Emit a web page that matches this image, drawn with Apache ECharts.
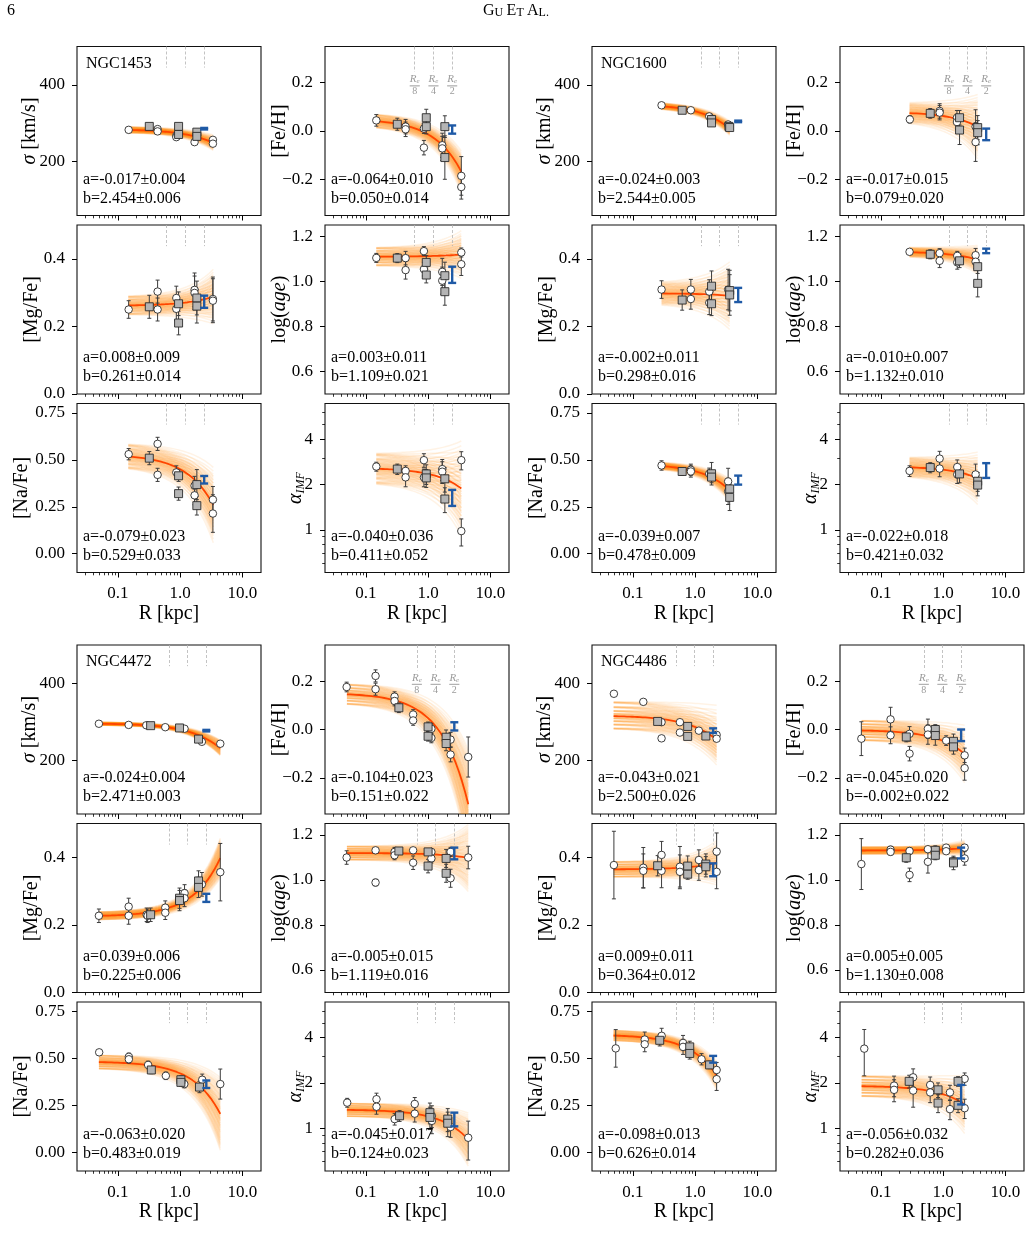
<!DOCTYPE html>
<html>
<head>
<meta charset="utf-8">
<script src="https://cdn.jsdelivr.net/npm/echarts@6/dist/echarts.min.js"></script>
<style>
  html, body { margin: 0; padding: 0; background: #fff; }
  #main { width: 1031px; height: 1243px; }
</style>
</head>
<body>
<div id="main"></div>
<script>
// ---------- data ----------
// each point: [R kpc, value, error]; fit: [a, da, b, db]
const X_TICKS = [0.1, 1, 10];
const X_LABELS = ['0.1', '1.0', '10.0'];
const X_MINOR = [0.03, 0.04, 0.05, 0.06, 0.07, 0.08, 0.09, 0.2, 0.3, 0.4, 0.5, 0.6, 0.7, 0.8, 0.9,
  2, 3, 4, 5, 6, 7, 8, 9];

const SIGMA_TICKS = [200, 400];
const SIGMA_LABELS = ['200', '400'];
const FEH_TICKS = [-0.2, 0, 0.2];
const FEH_LABELS = ['\u22120.2', '0.0', '0.2'];
const MGFE_TICKS = [0, 0.2, 0.4];
const MGFE_LABELS = ['0.0', '0.2', '0.4'];
const AGE_TICKS = [0.6, 0.8, 1.0, 1.2];
const AGE_LABELS = ['0.6', '0.8', '1.0', '1.2'];
const NAFE_TICKS = [0, 0.25, 0.5, 0.75];
const NAFE_LABELS = ['0.00', '0.25', '0.50', '0.75'];
const IMF_TICKS = [1, 2, 4];
const IMF_LABELS = ['1', '2', '4'];
const IMF_MINOR = [0.6, 0.7, 0.8, 0.9, 3, 5, 6];

const RE_DEN = [8, 4, 2];

// NGC1453
const RE_N1453 = [0.61, 1.22, 2.44];
const RANGE_N1453 = [0.147, 3.42];
const N1453_SIGMA = {
  fit: [-0.017, 0.004, 2.454, 0.006],
  circles: [[0.149, 283, 0], [0.435, 285, 0], [0.435, 279, 0], [0.87, 268, 0], [0.87, 264, 0],
    [1.71, 251, 0], [3.37, 257, 0], [3.37, 247, 0]],
  squares: [[0.32, 292, 0], [0.946, 292, 0], [0.946, 271, 0], [1.86, 277, 0], [1.86, 266, 0]],
  blue: [[2.44, 286, 2]]
};
const N1453_FEH = {
  fit: [-0.064, 0.010, 0.050, 0.014],
  circles: [[0.147, 0.044, 0.024], [0.435, 0.018, 0.03], [0.435, 0.007, 0.03], [0.857, 0.01, 0.02],
    [0.857, -0.069, 0.03], [1.69, -0.059, 0.05], [1.69, -0.072, 0.05], [3.42, -0.186, 0.08], [3.42, -0.232, 0.05]],
  squares: [[0.32, 0.028, 0.025], [0.935, 0.055, 0.035], [0.935, 0.018, 0.03], [1.86, 0.018, 0.045], [1.86, -0.11, 0.09]],
  blue: [[2.44, 0.006, 0.017]]
};
const N1453_MGFE = {
  fit: [0.008, 0.009, 0.261, 0.014],
  circles: [[0.149, 0.25, 0.026], [0.435, 0.303, 0.034], [0.435, 0.25, 0.034], [0.87, 0.284, 0.035],
    [0.87, 0.252, 0.035], [1.71, 0.308, 0.05], [1.71, 0.299, 0.05], [3.37, 0.281, 0.065], [3.37, 0.276, 0.065]],
  squares: [[0.32, 0.258, 0.034], [0.946, 0.267, 0.035], [0.946, 0.21, 0.035], [1.86, 0.284, 0.05], [1.86, 0.26, 0.05]],
  blue: [[2.44, 0.273, 0.018]]
};
const N1453_AGE = {
  fit: [0.003, 0.011, 1.109, 0.021],
  circles: [[0.147, 1.104, 0.02], [0.435, 1.103, 0.03], [0.435, 1.05, 0.04], [0.857, 1.134, 0.02],
    [0.857, 1.054, 0.03], [1.69, 1.042, 0.06], [1.69, 1.003, 0.06], [3.42, 1.128, 0.02], [3.42, 1.076, 0.05]],
  squares: [[0.32, 1.103, 0.02], [0.935, 1.084, 0.03], [0.935, 1.028, 0.035], [1.86, 1.025, 0.06], [1.86, 0.954, 0.06]],
  blue: [[2.44, 1.029, 0.036]]
};
const N1453_NAFE = {
  fit: [-0.079, 0.023, 0.529, 0.033],
  circles: [[0.149, 0.53, 0.03], [0.435, 0.585, 0.035], [0.435, 0.42, 0.035], [0.87, 0.433, 0.035],
    [1.71, 0.362, 0.05], [1.71, 0.311, 0.05], [3.37, 0.288, 0.07], [3.37, 0.214, 0.1]],
  squares: [[0.32, 0.509, 0.035], [0.946, 0.415, 0.03], [0.946, 0.32, 0.035], [1.86, 0.368, 0.08], [1.86, 0.256, 0.05]],
  blue: [[2.44, 0.394, 0.02]]
};
const N1453_IMF = {
  fit: [-0.040, 0.036, 0.411, 0.052],
  circles: [[0.147, 2.63, 0.18], [0.435, 2.46, 0.2], [0.435, 2.23, 0.3], [0.857, 2.9, 0.3], [0.857, 2.23, 0.3],
    [1.69, 2.53, 0.4], [1.69, 2.43, 0.4], [3.42, 2.9, 0.4], [3.42, 0.98, 0.2]],
  squares: [[0.32, 2.53, 0.2], [0.935, 2.35, 0.35], [0.935, 2.21, 0.3], [1.86, 2.18, 0.4], [1.86, 1.6, 0.3]],
  blue: [[2.44, 1.64, 0.2]]
};

// NGC1600
const RE_N1600 = [1.24, 2.47, 4.93];
const RANGE_N1600 = [0.289, 3.6];
const N1600_SIGMA = {
  fit: [-0.024, 0.003, 2.544, 0.005],
  circles: [[0.289, 347, 0], [0.855, 334, 0], [1.69, 318, 0], [1.84, 312, 0], [3.4, 297, 0]],
  squares: [[0.62, 334, 0], [1.84, 310, 0], [1.84, 301, 0], [3.5, 292, 0], [3.6, 289, 0]],
  blue: [[4.93, 305, 2]]
};
const N1600_FEH = {
  fit: [-0.017, 0.015, 0.079, 0.020],
  circles: [[0.292, 0.048, 0.015], [0.88, 0.083, 0.03], [0.88, 0.076, 0.03], [1.67, 0.055, 0.03],
    [1.67, 0.037, 0.03], [3.33, 0.018, 0.07], [3.33, -0.046, 0.08]],
  squares: [[0.622, 0.073, 0.02], [1.84, 0.055, 0.03], [1.84, 0.004, 0.06], [3.6, 0.014, 0.05], [3.6, -0.007, 0.05]],
  blue: [[4.93, -0.014, 0.024]]
};
const N1600_MGFE = {
  fit: [-0.002, 0.011, 0.298, 0.016],
  circles: [[0.289, 0.309, 0.026], [0.855, 0.309, 0.03], [0.855, 0.281, 0.03], [1.69, 0.303, 0.035],
    [1.69, 0.27, 0.035], [3.4, 0.309, 0.06]],
  squares: [[0.62, 0.278, 0.03], [1.84, 0.319, 0.045], [1.84, 0.267, 0.035], [3.6, 0.306, 0.06], [3.6, 0.293, 0.06]],
  blue: [[4.93, 0.293, 0.021]]
};
const N1600_AGE = {
  fit: [-0.010, 0.007, 1.132, 0.010],
  circles: [[0.289, 1.131, 0.005], [0.88, 1.125, 0.02], [0.88, 1.091, 0.03], [1.69, 1.113, 0.02],
    [1.69, 1.084, 0.03], [3.33, 1.116, 0.03], [3.33, 1.087, 0.03]],
  squares: [[0.622, 1.12, 0.02], [1.84, 1.091, 0.03], [3.6, 1.065, 0.03], [3.6, 0.991, 0.06]],
  blue: [[4.93, 1.135, 0.01]]
};
const N1600_NAFE = {
  fit: [-0.039, 0.007, 0.478, 0.009],
  circles: [[0.289, 0.47, 0.025], [0.855, 0.447, 0.03], [0.855, 0.438, 0.03], [1.69, 0.426, 0.03],
    [3.4, 0.385, 0.07], [3.4, 0.332, 0.07]],
  squares: [[0.62, 0.438, 0.02], [1.84, 0.426, 0.06], [1.84, 0.408, 0.03], [3.6, 0.345, 0.04], [3.6, 0.30, 0.07]],
  blue: [[4.93, 0.392, 0.024]]
};
const N1600_IMF = {
  fit: [-0.022, 0.018, 0.421, 0.032],
  circles: [[0.289, 2.46, 0.2], [0.88, 2.97, 0.35], [0.88, 2.55, 0.3], [1.69, 2.61, 0.3], [1.69, 2.33, 0.3],
    [3.33, 2.33, 0.4]],
  squares: [[0.622, 2.59, 0.2], [1.84, 2.35, 0.3], [3.6, 2.1, 0.3], [3.6, 1.98, 0.3]],
  blue: [[4.93, 2.49, 0.28]]
};

// NGC4472
const RE_N4472 = [0.66, 1.32, 2.64];
const RANGE_N4472 = [0.0495, 4.43];
const N4472_SIGMA = {
  fit: [-0.024, 0.004, 2.471, 0.003],
  circles: [[0.0495, 295, 0], [0.149, 292, 0], [0.286, 291, 0], [0.578, 286, 0], [1.18, 282, 0],
    [2.24, 248, 0], [4.43, 243, 0]],
  squares: [[0.336, 290, 0], [0.98, 284, 0], [1.98, 255, 0]],
  blue: [[2.64, 277, 2]]
};
const N4472_FEH = {
  fit: [-0.104, 0.023, 0.151, 0.022],
  circles: [[0.049, 0.176, 0.02], [0.143, 0.222, 0.025], [0.143, 0.167, 0.025], [0.289, 0.136, 0.02],
    [0.289, 0.118, 0.02], [0.575, 0.062, 0.02], [0.575, 0.0375, 0.02], [1.13, 0.003, 0.02], [1.13, -0.035, 0.02],
    [2.3, -0.042, 0.03], [2.3, -0.104, 0.03], [4.42, -0.114, 0.083]],
  squares: [[0.339, 0.09, 0.02], [1.0, 0.011, 0.02], [1.0, -0.028, 0.02], [1.95, -0.032, 0.03], [1.95, -0.058, 0.03]],
  blue: [[2.64, 0.013, 0.017]]
};
const N4472_MGFE = {
  fit: [0.039, 0.006, 0.225, 0.006],
  circles: [[0.0495, 0.227, 0.02], [0.149, 0.254, 0.025], [0.149, 0.227, 0.025], [0.29, 0.23, 0.02],
    [0.3, 0.227, 0.02], [0.578, 0.251, 0.02], [0.578, 0.236, 0.02], [1.18, 0.294, 0.025], [1.18, 0.279, 0.025],
    [2.24, 0.32, 0.035], [4.43, 0.356, 0.085]],
  squares: [[0.336, 0.23, 0.02], [0.98, 0.279, 0.03], [0.98, 0.272, 0.03], [1.98, 0.33, 0.03], [1.98, 0.311, 0.03]],
  blue: [[2.64, 0.28, 0.012]]
};
const N4472_AGE = {
  fit: [-0.005, 0.015, 1.119, 0.016],
  circles: [[0.049, 1.099, 0.03], [0.143, 1.131, 0.005], [0.143, 0.988, 0.015], [0.289, 1.124, 0.02],
    [0.289, 1.109, 0.02], [0.575, 1.131, 0.005], [0.575, 1.076, 0.03], [1.13, 1.124, 0.01], [1.13, 1.095, 0.02],
    [2.3, 1.124, 0.02], [2.3, 1.007, 0.04], [4.42, 1.099, 0.05]],
  squares: [[0.339, 1.128, 0.01], [1.0, 1.124, 0.01], [1.0, 1.061, 0.03], [1.95, 1.095, 0.04], [1.95, 1.029, 0.04]],
  blue: [[2.64, 1.117, 0.026]]
};
const N4472_NAFE = {
  fit: [-0.063, 0.020, 0.483, 0.019],
  circles: [[0.05, 0.532, 0.015], [0.15, 0.508, 0.02], [0.15, 0.495, 0.02], [0.306, 0.465, 0.02],
    [0.59, 0.407, 0.02], [1.17, 0.363, 0.02], [2.27, 0.386, 0.03], [4.43, 0.363, 0.08]],
  squares: [[0.345, 0.438, 0.02], [1.03, 0.386, 0.02], [1.03, 0.372, 0.02], [2.05, 0.347, 0.03]],
  blue: [[2.64, 0.362, 0.02]]
};
const N4472_IMF = {
  fit: [-0.045, 0.017, 0.124, 0.023],
  circles: [[0.05, 1.48, 0.1], [0.148, 1.56, 0.15], [0.148, 1.39, 0.15], [0.29, 1.15, 0.1], [0.61, 1.45, 0.15],
    [0.61, 1.25, 0.15], [1.15, 1.21, 0.2], [1.15, 1.12, 0.2], [2.3, 1.02, 0.15], [4.42, 0.865, 0.25]],
  squares: [[0.348, 1.21, 0.1], [1.07, 1.27, 0.2], [1.07, 1.18, 0.2], [2.07, 1.15, 0.2], [2.07, 1.08, 0.2]],
  blue: [[2.64, 1.15, 0.12]]
};

// NGC4486
const RE_N4486 = [0.49, 0.975, 1.95];
const RANGE_N4486 = [0.049, 2.22];
const N4486_SIGMA = {
  fit: [-0.043, 0.021, 2.500, 0.026],
  circles: [[0.0495, 373, 0], [0.147, 352, 0], [0.289, 299, 0], [0.289, 257, 0], [0.57, 299, 0], [0.57, 272, 0],
    [1.15, 277, 0], [2.22, 266, 0], [2.22, 256, 0]],
  squares: [[0.25, 301, 0], [0.76, 288, 0], [0.76, 262, 0], [1.49, 263, 0]],
  blue: [[1.95, 277, 6]]
};
const N4486_FEH = {
  fit: [-0.045, 0.020, -0.002, 0.022],
  circles: [[0.0485, -0.038, 0.07], [0.143, 0.042, 0.05], [0.143, -0.024, 0.035], [0.289, -0.018, 0.03],
    [0.289, -0.1, 0.03], [0.57, 0.003, 0.04], [0.57, -0.021, 0.04], [1.12, -0.046, 0.02], [2.22, -0.107, 0.03],
    [2.22, -0.16, 0.05]],
  squares: [[0.256, -0.031, 0.02], [0.75, 0.0, 0.02], [0.75, -0.025, 0.04], [1.47, -0.049, 0.03], [1.47, -0.072, 0.03]],
  blue: [[1.95, -0.024, 0.024]]
};
const N4486_MGFE = {
  fit: [0.009, 0.011, 0.364, 0.012],
  circles: [[0.0495, 0.377, 0.1], [0.147, 0.369, 0.06], [0.147, 0.36, 0.05], [0.289, 0.407, 0.04],
    [0.289, 0.36, 0.05], [0.57, 0.372, 0.06], [0.57, 0.357, 0.05], [1.15, 0.392, 0.03], [1.15, 0.362, 0.03],
    [2.22, 0.417, 0.055], [2.22, 0.357, 0.05]],
  squares: [[0.25, 0.375, 0.03], [0.76, 0.374, 0.03], [0.76, 0.35, 0.015], [1.49, 0.38, 0.03], [1.49, 0.372, 0.03]],
  blue: [[1.95, 0.363, 0.019]]
};
const N4486_AGE = {
  fit: [0.005, 0.005, 1.130, 0.008],
  circles: [[0.0485, 1.07, 0.113], [0.143, 1.134, 0.015], [0.143, 1.124, 0.015], [0.289, 1.128, 0.015],
    [0.289, 1.022, 0.03], [0.57, 1.136, 0.01], [0.57, 1.08, 0.05], [1.12, 1.143, 0.01], [1.12, 1.127, 0.01],
    [2.22, 1.143, 0.01], [2.22, 1.095, 0.03]],
  squares: [[0.256, 1.098, 0.02], [0.75, 1.131, 0.02], [0.75, 1.109, 0.02], [1.47, 1.08, 0.02], [1.47, 1.075, 0.03]],
  blue: [[1.95, 1.119, 0.024]]
};
const N4486_NAFE = {
  fit: [-0.098, 0.013, 0.626, 0.014],
  circles: [[0.053, 0.553, 0.1], [0.155, 0.6, 0.04], [0.155, 0.575, 0.04], [0.29, 0.62, 0.04], [0.64, 0.582, 0.04],
    [0.64, 0.561, 0.04], [1.27, 0.495, 0.03], [2.22, 0.438, 0.04], [2.22, 0.389, 0.06]],
  squares: [[0.27, 0.596, 0.03], [0.82, 0.561, 0.03], [0.82, 0.526, 0.03], [1.71, 0.465, 0.02]],
  blue: [[1.95, 0.495, 0.018]]
};
const N4486_IMF = {
  fit: [-0.056, 0.032, 0.282, 0.036],
  circles: [[0.054, 3.38, 1.15], [0.163, 1.92, 0.3], [0.163, 1.8, 0.3], [0.33, 2.18, 0.3], [0.33, 1.78, 0.4],
    [0.62, 1.94, 0.25], [0.62, 1.73, 0.25], [1.29, 1.73, 0.2], [1.29, 1.34, 0.2], [2.22, 2.13, 0.2], [2.22, 1.36, 0.2]],
  squares: [[0.285, 2.05, 0.2], [0.83, 1.8, 0.2], [0.83, 1.47, 0.2], [1.74, 2.05, 0.15], [1.74, 1.42, 0.15]],
  blue: [[1.95, 1.69, 0.25]]
};

// ---------- layout ----------
const FONT = '"Liberation Serif", "DejaVu Serif", serif';
const COL_LEFT = [77, 325, 592, 840];
const ROW_TOP = [[46.5, 225, 403.5], [645, 823.5, 1002]];
const PANEL_W = 184;
const PANEL_H = 169;
const X_MIN = 0.022, X_MAX = 20;
const BAND_STEPS = [-1.8, -1.2, -0.7, -0.3, 0, 0.3, 0.7, 1.2, 1.8];

const GALAXIES = [
  { name: 'NGC1453', re: RE_N1453, range: RANGE_N1453,
    panels: [N1453_SIGMA, N1453_FEH, N1453_MGFE, N1453_AGE, N1453_NAFE, N1453_IMF] },
  { name: 'NGC1600', re: RE_N1600, range: RANGE_N1600,
    panels: [N1600_SIGMA, N1600_FEH, N1600_MGFE, N1600_AGE, N1600_NAFE, N1600_IMF] },
  { name: 'NGC4472', re: RE_N4472, range: RANGE_N4472,
    panels: [N4472_SIGMA, N4472_FEH, N4472_MGFE, N4472_AGE, N4472_NAFE, N4472_IMF] },
  { name: 'NGC4486', re: RE_N4486, range: RANGE_N4486,
    panels: [N4486_SIGMA, N4486_FEH, N4486_MGFE, N4486_AGE, N4486_NAFE, N4486_IMF] }
];

const QTY = [
  { row: 0, col: 0, min: 60, max: 500, logFit: true, ticks: SIGMA_TICKS, labels: SIGMA_LABELS, name: '{i|σ} [km/s]', gap: 37 },
  { row: 0, col: 1, min: -0.35, max: 0.35, ticks: FEH_TICKS, labels: FEH_LABELS, name: '[Fe/H]', gap: 35, frac: true },
  { row: 1, col: 0, min: 0, max: 0.5, ticks: MGFE_TICKS, labels: MGFE_LABELS, name: '[Mg/Fe]', gap: 35 },
  { row: 1, col: 1, min: 0.5, max: 1.25, ticks: AGE_TICKS, labels: AGE_LABELS, name: 'log({i|age})', gap: 35 },
  { row: 2, col: 0, min: -0.1, max: 0.8, ticks: NAFE_TICKS, labels: NAFE_LABELS, name: '[Na/Fe]', gap: 45 },
  { row: 2, col: 1, min: 0.52, max: 6.9, logAxis: true, logFit: true, ticks: IMF_TICKS, labels: IMF_LABELS,
    minor: IMF_MINOR, name: '{a|α}{s|IMF}', gap: 18 }
];

const NAME_RICH = {
  i: { fontStyle: 'italic', fontFamily: FONT, fontSize: 20, color: '#000' },
  a: { fontStyle: 'italic', fontFamily: FONT, fontSize: 20, color: '#000' },
  s: { fontStyle: 'italic', fontFamily: FONT, fontSize: 12, color: '#000', verticalAlign: 'bottom', padding: [10, 0, 0, 0] }
};
const FRAC_RICH = {
  r: { fontSize: 11, fontStyle: 'italic', color: '#9a9a9a', fontFamily: FONT, lineHeight: 11 },
  e: { fontSize: 7, fontStyle: 'italic', color: '#9a9a9a', fontFamily: FONT, lineHeight: 11, verticalAlign: 'bottom' },
  hr: { width: 10, height: 0, borderColor: '#9a9a9a', borderWidth: 0.6, lineHeight: 2 },
  d: { fontSize: 10, color: '#9a9a9a', fontFamily: FONT, lineHeight: 10 }
};

function logspace(a, b, n) {
  const out = [];
  const la = Math.log10(a), lb = Math.log10(b);
  for (let i = 0; i < n; i++) out.push(Math.pow(10, la + (lb - la) * i / (n - 1)));
  return out;
}

function labelFor(ticks, labels) {
  return function (v) {
    for (let i = 0; i < ticks.length; i++) {
      if (Math.abs(v - ticks[i]) < 1e-6 * Math.max(1, Math.abs(ticks[i]))) return labels[i];
    }
    return '';
  };
}

function errorBarRender(capHalf, color, width, logY) {
  return function (params, api) {
    const x = api.value(0), y = api.value(1), e = api.value(2);
    if (!e) return null;
    const lo = (y - e > 0 || !logY) ? y - e : y * 0.5;
    const top = api.coord([x, y + e]);
    const bot = api.coord([x, lo]);
    const st = { stroke: color, lineWidth: width };
    return {
      type: 'group',
      children: [
        { type: 'line', shape: { x1: top[0], y1: top[1], x2: bot[0], y2: bot[1] }, style: st },
        { type: 'line', shape: { x1: top[0] - capHalf, y1: top[1], x2: top[0] + capHalf, y2: top[1] }, style: st },
        { type: 'line', shape: { x1: bot[0] - capHalf, y1: bot[1], x2: bot[0] + capHalf, y2: bot[1] }, style: st }
      ]
    };
  };
}

const chart = echarts.init(document.getElementById('main'));
const grids = [], xAxes = [], yAxes = [], series = [], graphics = [];
const tickText = { fontFamily: FONT, fontSize: 17, color: '#000' };
const noLine = { show: false, onZero: false };

GALAXIES.forEach((gal, gi) => {
  const half = gi < 2 ? 0 : 1;
  const colBase = (gi % 2) * 2;
  const rGrid = logspace(gal.range[0], gal.range[1], 40);

  QTY.forEach((q, qi) => {
    const p = gal.panels[qi];
    const left = COL_LEFT[colBase + q.col];
    const top = ROW_TOP[half][q.row];
    const gIdx = grids.length;
    const bottomRow = q.row === 2;
    const [a, da, b, db] = p.fit;
    const model = (aa, bb, R) => q.logFit ? Math.pow(10, bb + aa * R) : bb + aa * R;

    grids.push({ left: left, top: top, width: PANEL_W, height: PANEL_H, show: true,
      borderColor: '#111', borderWidth: 1.1, backgroundColor: 'transparent' });

    const xMain = xAxes.length;
    xAxes.push({
      type: 'log', logBase: 10, gridIndex: gIdx, min: X_MIN, max: X_MAX, position: 'bottom',
      axisLine: noLine, splitLine: { show: false },
      axisTick: { show: true, inside: false, length: 5, customValues: X_TICKS, lineStyle: { color: '#000', width: 1 } },
      axisLabel: { show: bottomRow, customValues: X_TICKS, formatter: labelFor(X_TICKS, X_LABELS), margin: 13, ...tickText },
      name: bottomRow ? 'R [kpc]' : '', nameLocation: 'middle', nameGap: 30,
      nameTextStyle: { fontFamily: FONT, fontSize: 20, color: '#000' }
    });
    xAxes.push({
      type: 'log', logBase: 10, gridIndex: gIdx, min: X_MIN, max: X_MAX, position: 'bottom',
      axisLine: noLine, splitLine: { show: false },
      axisTick: { show: true, inside: false, length: 2.8, customValues: X_MINOR, lineStyle: { color: '#000', width: 0.8 } },
      axisLabel: { show: false }
    });

    const yMain = yAxes.length;
    yAxes.push({
      type: q.logAxis ? 'log' : 'value', logBase: 2, gridIndex: gIdx, min: q.min, max: q.max, position: 'left',
      axisLine: noLine, splitLine: { show: false },
      axisTick: { show: true, inside: false, length: 5, customValues: q.ticks, lineStyle: { color: '#000', width: 1 } },
      axisLabel: { show: true, customValues: q.ticks, formatter: labelFor(q.ticks, q.labels), margin: 12, ...tickText },
      name: q.name, nameLocation: 'middle', nameGap: q.gap, nameMoveOverlap: false,
      nameTextStyle: { fontFamily: FONT, fontSize: 20, color: '#000', rich: NAME_RICH }
    });
    if (q.minor) {
      yAxes.push({
        type: 'log', logBase: 2, gridIndex: gIdx, min: q.min, max: q.max, position: 'left',
        axisLine: noLine, splitLine: { show: false },
        axisTick: { show: true, inside: false, length: 2.8, customValues: q.minor, lineStyle: { color: '#000', width: 0.8 } },
        axisLabel: { show: false }
      });
    }

    // posterior fan
    const pairs = [];
    BAND_STEPS.forEach(ka => BAND_STEPS.forEach(kb => pairs.push([gal.range[0], model(a, b, gal.range[0]), ka, kb])));
    series.push({
      type: 'custom', xAxisIndex: xMain, yAxisIndex: yMain, clip: true, silent: true, z: 1,
      encode: { x: 0, y: 1 },
      data: pairs,
      renderItem: function (params, api) {
        const aa = a + api.value(2) * da, bb = b + api.value(3) * db;
        const pts = rGrid.map(R => api.coord([R, model(aa, bb, R)]));
        return { type: 'polyline', shape: { points: pts },
          style: { stroke: 'rgba(255,140,0,0.10)', lineWidth: 1.5, fill: null } };
      }
    });

    // best fit + Re markers
    const span = q.frac ? 0.15 : 0.125;
    const yEnd = q.logAxis ? q.max / Math.pow(q.max / q.min, span) : q.max - span * (q.max - q.min);
    series.push({
      type: 'line', xAxisIndex: xMain, yAxisIndex: yMain, z: 3, silent: true, clip: true,
      showSymbol: false, symbol: 'none',
      lineStyle: { color: '#ff4500', width: 1.8 },
      data: rGrid.map(R => [R, model(a, b, R)]),
      markLine: {
        silent: true, animation: false, symbol: ['none', 'none'],
        lineStyle: { type: [3, 2], color: '#b4b4b4', width: 0.8 },
        label: { show: false },
        data: gal.re.map((R, k) => [
          { coord: [R, q.max],
            label: q.frac ? { show: true, position: 'end', distance: 2, align: 'center',
              formatter: '{r|R}{e|e}\n{hr|}\n{d|' + RE_DEN[k] + '}', rich: FRAC_RICH } : { show: false } },
          { coord: [R, yEnd] }
        ])
      }
    });

    // error bars of circles and squares
    series.push({
      type: 'custom', xAxisIndex: xMain, yAxisIndex: yMain, z: 4, silent: true, clip: false,
      encode: { x: 0, y: 1 },
      data: p.circles.concat(p.squares),
      renderItem: errorBarRender(2, '#3c3c3c', 1, !!q.logAxis)
    });
    series.push({
      type: 'scatter', xAxisIndex: xMain, yAxisIndex: yMain, z: 5, silent: true,
      symbol: 'circle', symbolSize: 7.5,
      itemStyle: { color: '#ffffff', borderColor: '#2a2a2a', borderWidth: 0.9, opacity: 1 },
      data: p.circles.map(d => [d[0], d[1]])
    });
    series.push({
      type: 'scatter', xAxisIndex: xMain, yAxisIndex: yMain, z: 5, silent: true,
      symbol: 'rect', symbolSize: 8,
      itemStyle: { color: '#b4b4b4', borderColor: '#2a2a2a', borderWidth: 0.9, opacity: 1 },
      data: p.squares.map(d => [d[0], d[1]])
    });
    // integrated (blue) measurement
    series.push({
      type: 'custom', xAxisIndex: xMain, yAxisIndex: yMain, z: 6, silent: true, clip: false,
      encode: { x: 0, y: 1 },
      data: p.blue,
      renderItem: errorBarRender(4, '#1f5aa6', 2.4, !!q.logAxis)
    });

    // a / b annotation
    const f3 = v => v.toFixed(3);
    graphics.push({ type: 'text', x: left + 6, y: top + PANEL_H - 36, z: 10,
      style: { text: 'a=' + f3(a) + '\u00b1' + f3(da), fontFamily: FONT, fontSize: 16, fill: '#000', verticalAlign: 'middle' } });
    graphics.push({ type: 'text', x: left + 6, y: top + PANEL_H - 17, z: 10,
      style: { text: 'b=' + f3(b) + '\u00b1' + f3(db), fontFamily: FONT, fontSize: 16, fill: '#000', verticalAlign: 'middle' } });
    if (qi === 0) {
      graphics.push({ type: 'text', x: left + 9, y: top + 17, z: 10,
        style: { text: gal.name, fontFamily: FONT, fontSize: 16, fill: '#000', verticalAlign: 'middle' } });
    }
  });
});

// page header
graphics.push({ type: 'text', x: 7, y: 11, style: { text: '6', fontFamily: FONT, fontSize: 16, fill: '#000', verticalAlign: 'middle' } });
graphics.push({ type: 'text', x: 516, y: 11, style: {
  text: '{b|G}{s|U} {b|E}{s|T} {b|A}{s|L}{s|.}', align: 'center', verticalAlign: 'middle',
  rich: { b: { fontFamily: FONT, fontSize: 16, color: '#000' },
          s: { fontFamily: FONT, fontSize: 12, color: '#000', verticalAlign: 'bottom' } } } });

chart.setOption({
  animation: false,
  backgroundColor: '#ffffff',
  grid: grids,
  xAxis: xAxes,
  yAxis: yAxes,
  series: series,
  graphic: graphics
});
</script>
</body>
</html>
